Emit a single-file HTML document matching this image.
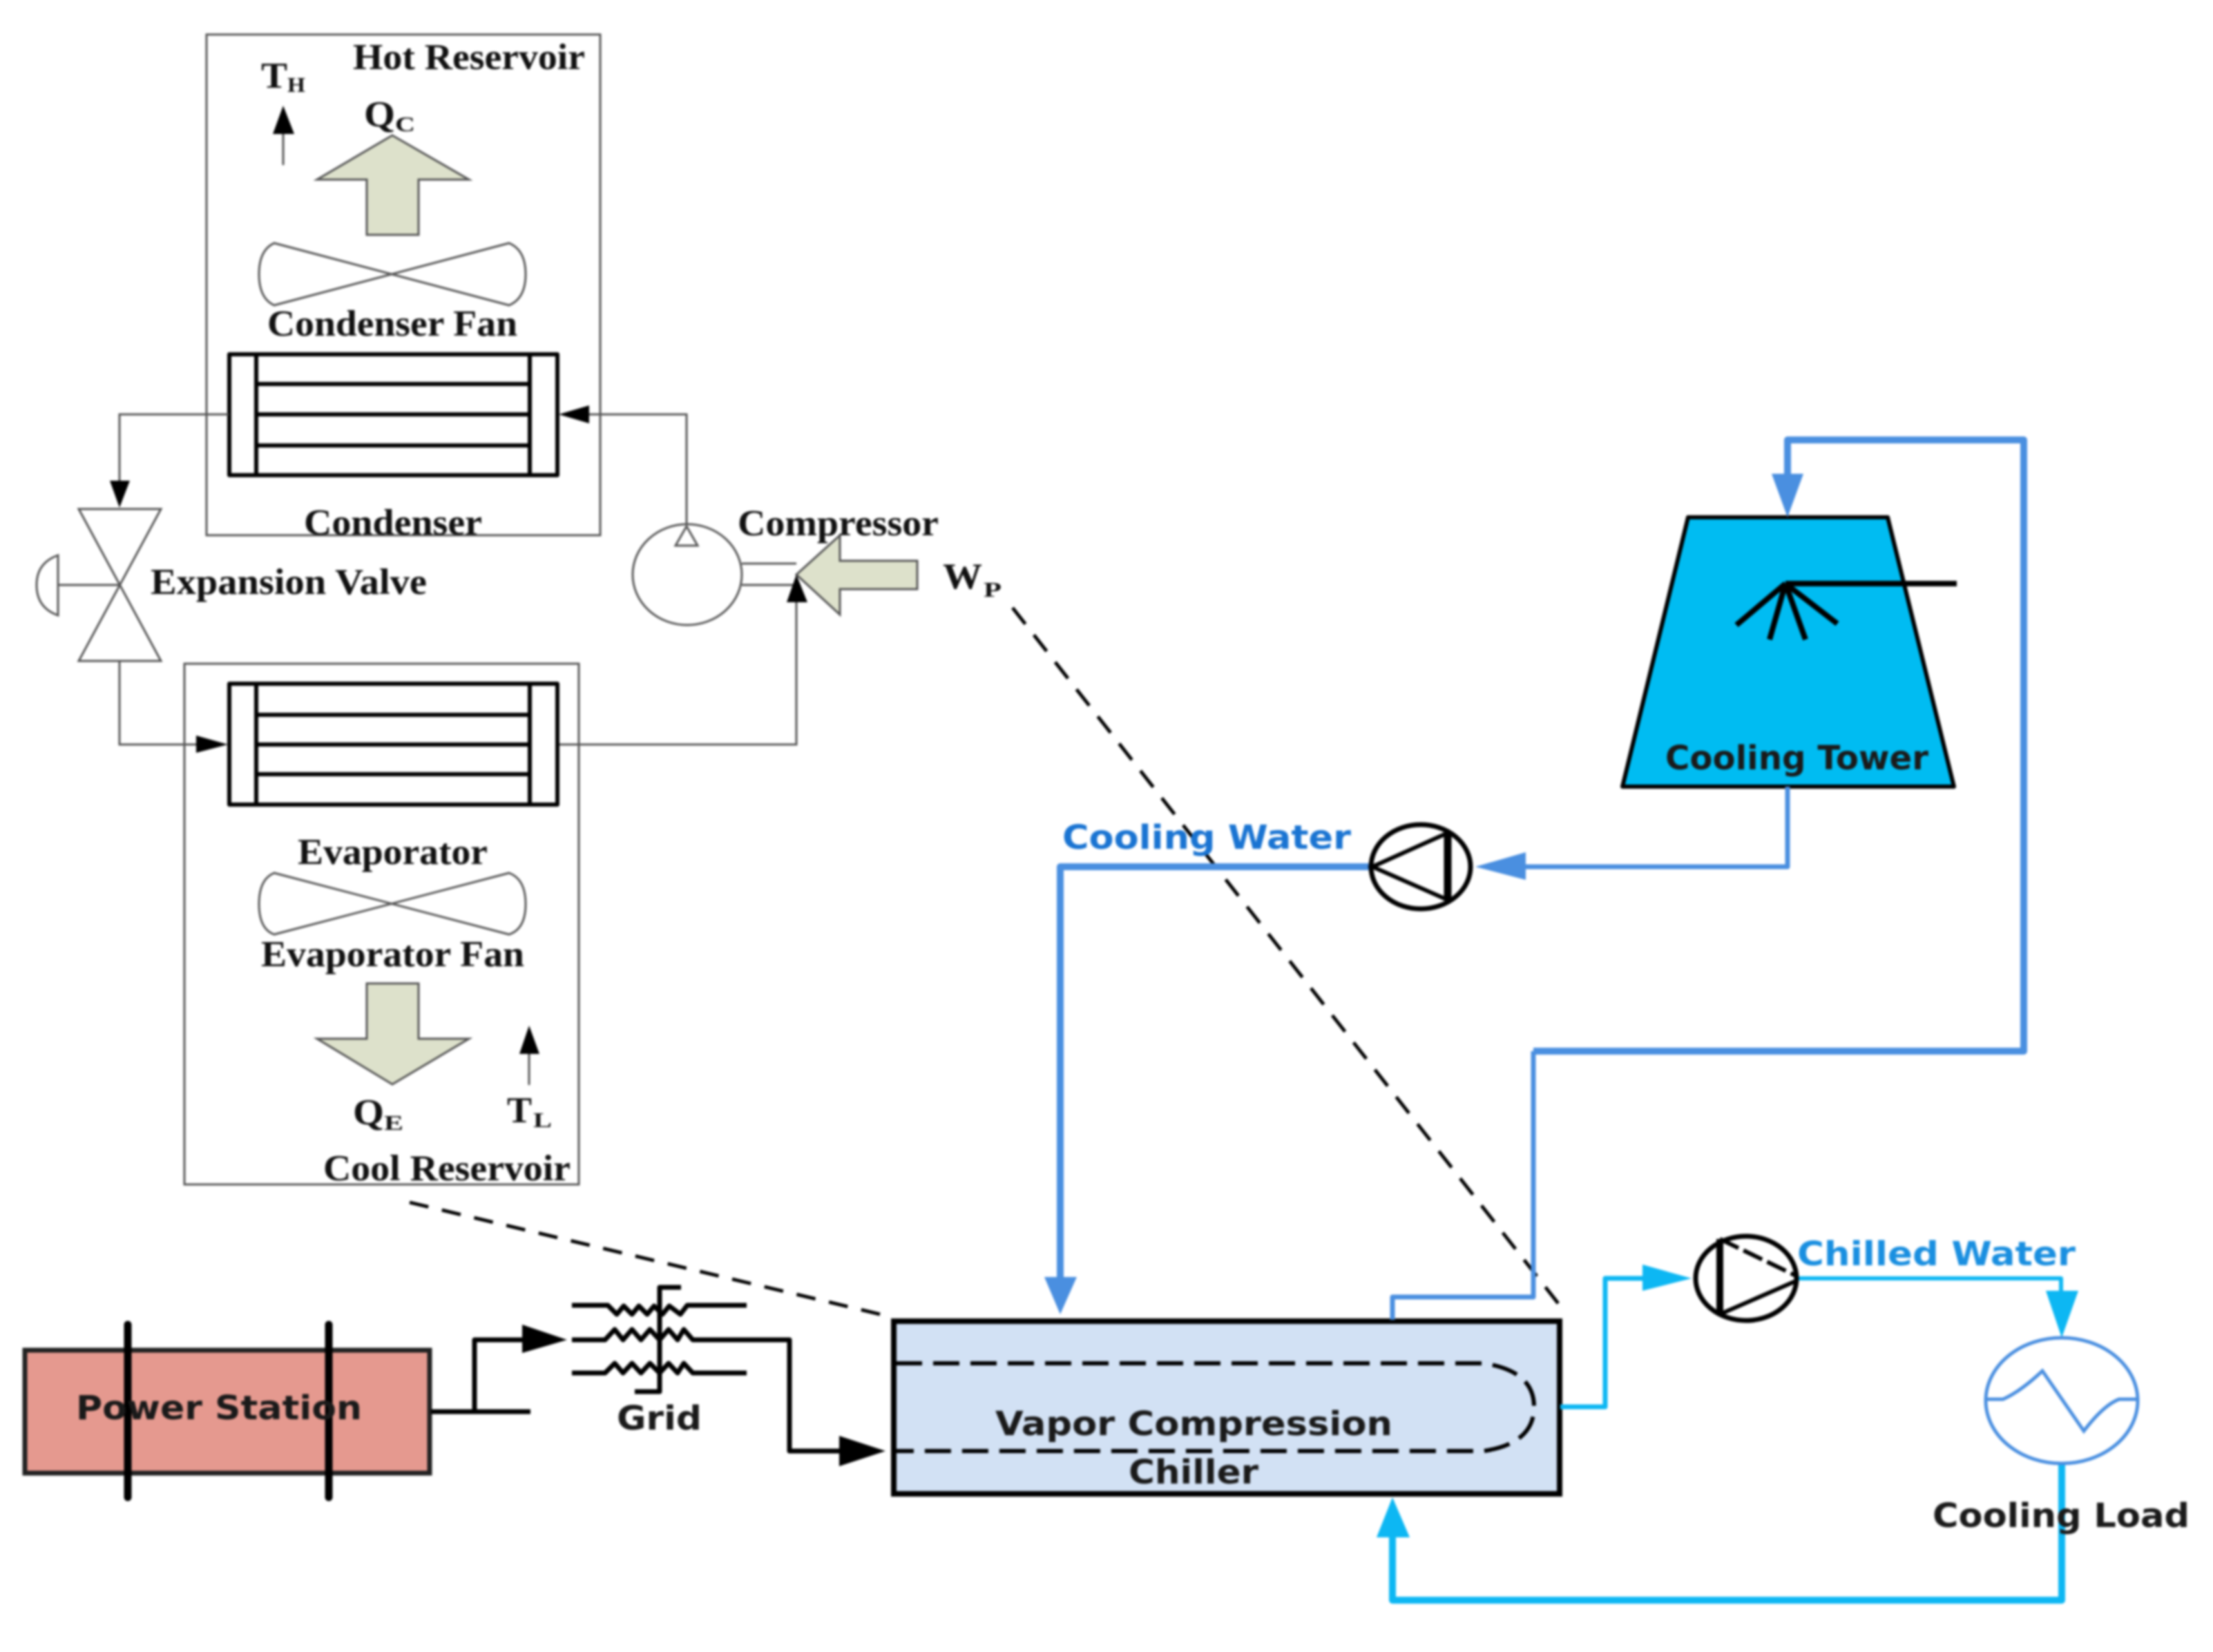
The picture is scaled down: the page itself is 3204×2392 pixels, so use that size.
<!DOCTYPE html>
<html><head><meta charset="utf-8">
<style>
html,body{margin:0;padding:0;background:#fff;width:3204px;height:2392px;overflow:hidden}
svg{display:block;filter:blur(1.6px)}
.s{font-family:"Liberation Serif",serif;font-weight:bold;font-size:53px;fill:#111}
.sub{font-size:31px}
.d{font-family:"DejaVu Sans","Liberation Sans",sans-serif;font-weight:bold;font-size:48px;fill:#1a1a1a}
.g{fill:none;stroke:#555;stroke-width:3}
.k{fill:none;stroke:#000;stroke-width:6;stroke-linejoin:round}
.c{fill:#DDE1CB;stroke:#555;stroke-width:3}
.b{fill:none;stroke:#4A8FE0;stroke-linejoin:round}
.l{fill:none;stroke:#0DB7F3;stroke-linejoin:round}
</style></head><body>
<svg width="3204" height="2392" viewBox="0 0 3204 2392" xmlns="http://www.w3.org/2000/svg">
<rect width="3204" height="2392" fill="#fff"/>

<!-- reservoirs -->
<rect x="299" y="50" width="570" height="725" fill="none" stroke="#555" stroke-width="3"/>
<rect x="267" y="961" width="571" height="754" fill="none" stroke="#555" stroke-width="3"/>

<!-- TH arrow -->
<path d="M410 194V239" class="g"/><path d="M410 153L426 194H395Z" fill="#000"/>
<!-- Qc arrow -->
<path class="c" d="M568 196L679 260H606V340H531V260H459Z"/>
<!-- hot fan -->
<path class="g" d="M397 352L737 442Q761 432 761 397Q761 362 737 352L397 442Q375 432 375 397Q375 362 397 352Z"/>

<!-- condenser -->
<g class="k"><rect x="332" y="513" width="475" height="175"/><path d="M371 513V688M767 513V688M371 556H767M371 600H767M371 645H767"/></g>

<!-- refrigerant piping -->
<path class="g" d="M331 600H173V700"/><path d="M173 735L159 696H188Z" fill="#000"/>
<path class="g" d="M853 600H994V760"/><path d="M809 600L853 587V613Z" fill="#000"/>
<path class="g" d="M114 737H233L114 957H233Z"/>
<path class="g" d="M173 847H84"/>
<path class="g" d="M84 804Q53 815 53 847Q53 880 84 891Z"/>

<!-- compressor -->
<ellipse cx="995" cy="832" rx="79" ry="73" class="g"/>
<path class="g" d="M994 762L1010 790H978Z"/>
<path class="g" d="M1074 816H1153M1074 847H1153"/>
<path class="c" d="M1153 832L1216 775V812H1328V853H1216V890Z"/>
<path class="g" d="M1153 872V1078H808"/><path d="M1153 832L1169 872H1139Z" fill="#000"/>
<path class="g" d="M173 957V1078H290"/><path d="M330 1078L284 1065V1090Z" fill="#000"/>

<!-- evaporator -->
<g class="k"><rect x="332" y="990" width="475" height="175"/><path d="M371 990V1165M767 990V1165M371 1035H767M371 1078H767M371 1121H767"/></g>
<!-- evap fan -->
<path class="g" d="M397 1264L737 1353Q761 1345 761 1309Q761 1273 737 1264L397 1353Q375 1345 375 1309Q375 1273 397 1264Z"/>
<!-- Qe arrow -->
<path class="c" d="M531 1424H606V1504H679L568 1570L459 1504H531Z"/>
<path class="g" d="M766 1526V1571"/><path d="M766 1485L781 1526H752Z" fill="#000"/>

<!-- texts: refrigeration -->
<text class="s" x="511" y="100" textLength="336" lengthAdjust="spacingAndGlyphs">Hot Reservoir</text>
<text class="s" x="378" y="127" textLength="38" lengthAdjust="spacingAndGlyphs">T</text>
<text class="s sub" x="416" y="133" textLength="26" lengthAdjust="spacingAndGlyphs">H</text>
<text class="s" x="527" y="183" textLength="45" lengthAdjust="spacingAndGlyphs">Q</text>
<text class="s sub" x="572" y="190" textLength="29" lengthAdjust="spacingAndGlyphs">C</text>
<text class="s" x="387" y="486" textLength="362" lengthAdjust="spacingAndGlyphs">Condenser Fan</text>
<text class="s" x="440" y="774" textLength="258" lengthAdjust="spacingAndGlyphs">Condenser</text>
<text class="s" x="1068" y="775" textLength="291" lengthAdjust="spacingAndGlyphs">Compressor</text>
<text class="s" x="218" y="860" textLength="400" lengthAdjust="spacingAndGlyphs">Expansion Valve</text>
<text class="s" x="1365" y="852" textLength="57" lengthAdjust="spacingAndGlyphs">W</text>
<text class="s sub" x="1424" y="864" textLength="26" lengthAdjust="spacingAndGlyphs">P</text>
<text class="s" x="431" y="1251" textLength="275" lengthAdjust="spacingAndGlyphs">Evaporator</text>
<text class="s" x="378" y="1399" textLength="381" lengthAdjust="spacingAndGlyphs">Evaporator Fan</text>
<text class="s" x="511" y="1628" textLength="45" lengthAdjust="spacingAndGlyphs">Q</text>
<text class="s sub" x="556" y="1636" textLength="28" lengthAdjust="spacingAndGlyphs">E</text>
<text class="s" x="734" y="1625" textLength="36" lengthAdjust="spacingAndGlyphs">T</text>
<text class="s sub" x="772" y="1632" textLength="27" lengthAdjust="spacingAndGlyphs">L</text>
<text class="s" x="468" y="1709" textLength="358" lengthAdjust="spacingAndGlyphs">Cool Reservoir</text>

<!-- dashed zoom lines -->
<path d="M593 1741L1287 1906" fill="none" stroke="#000" stroke-width="5" stroke-dasharray="28 20"/>
<path d="M1466 880L2266 1900" fill="none" stroke="#000" stroke-width="5" stroke-dasharray="30 20"/>

<!-- power station -->
<rect x="36" y="1955" width="586" height="178" fill="#E5998F" stroke="#222" stroke-width="7"/>
<path d="M185 1918V2168M476 1918V2168" stroke="#000" stroke-width="11" fill="none" stroke-linecap="round"/>
<text class="d" x="110" y="2055" textLength="414" lengthAdjust="spacingAndGlyphs">Power Station</text>
<path d="M624 2044H768M687 2044V1940H760" fill="none" stroke="#000" stroke-width="7" stroke-linejoin="round"/>
<path d="M821 1940L756 1918V1959Z" fill="#000"/>

<!-- grid -->
<g fill="none" stroke="#000" stroke-width="7" stroke-linejoin="round">
<path d="M828 1890H880L893 1903L903 1891L915 1903L925 1891L937 1903L947 1891L959 1903L969 1891L985 1903L995 1890H1081"/>
<path d="M828 1940H876L890 1925L902 1940L915 1925L928 1940L941 1925L955 1940L968 1925L981 1940L990 1925L1003 1940H1143V2101H1220"/>
<path d="M828 1988H876L890 1974L902 1988L915 1974L928 1988L941 1974L955 1988L968 1974L981 1988L990 1974L1003 1988H1081"/>
<path d="M986 1864H955V2015H919"/>
</g>
<path d="M1282 2101L1215 2079V2123Z" fill="#000"/>
<text class="d" x="893" y="2070" textLength="123" lengthAdjust="spacingAndGlyphs">Grid</text>

<!-- chiller -->
<rect x="1294" y="1913" width="964" height="250" fill="#D2E1F4" stroke="#000" stroke-width="8"/>
<path d="M1297 1974H2148Q2221 1985 2221 2037Q2221 2090 2148 2101H1297" fill="none" stroke="#000" stroke-width="6" stroke-dasharray="38 16"/>
<text class="d" x="1441" y="2078" textLength="575" lengthAdjust="spacingAndGlyphs">Vapor Compression</text>
<text class="d" x="1634" y="2148" textLength="188" lengthAdjust="spacingAndGlyphs">Chiller</text>

<!-- cooling tower -->
<path d="M2444 749H2733L2829 1139H2349Z" fill="#00BCF2" stroke="#000" stroke-width="6" stroke-linejoin="round"/>
<path d="M2833 845H2585M2585 845L2514 905M2585 845L2562 926M2585 845L2614 926M2585 845L2660 903" fill="none" stroke="#000" stroke-width="8"/>
<text class="d" x="2411" y="1114" textLength="381" lengthAdjust="spacingAndGlyphs">Cooling Tower</text>

<!-- cooling water loop -->
<path class="b" stroke-width="7" d="M2016 1911V1878H2220V1522" />
<path class="b" stroke-width="10" d="M2220 1522H2930V637H2588V700"/>
<path d="M2588 749L2565 686H2611Z" fill="#4A8FE0"/>
<path class="b" stroke-width="7" d="M2588 1139V1255H2190"/>
<path d="M2136 1255L2209 1234V1274Z" fill="#4A8FE0"/>
<path class="b" stroke-width="10" d="M1987 1255H1535V1860"/>
<path d="M1535 1903L1512 1849H1559Z" fill="#4A8FE0"/>
<text class="d" x="1538" y="1229" textLength="418" lengthAdjust="spacingAndGlyphs" style="fill:#1A74D2">Cooling Water</text>

<!-- cooling pump -->
<ellipse cx="2057" cy="1255" rx="72" ry="61" fill="none" stroke="#000" stroke-width="7"/>
<path d="M2096 1206V1303" stroke="#000" stroke-width="11"/>
<path d="M2096 1206L1987 1255L2096 1303" fill="none" stroke="#000" stroke-width="6"/>

<!-- chilled water loop -->
<path class="l" stroke-width="7" d="M2259 2037H2324V1851H2400"/>
<path d="M2449 1851L2378 1831V1869Z" fill="#0DB7F3"/>
<path class="l" stroke-width="6" d="M2602 1851H2984V1880"/>
<path d="M2985 1937L2962 1869H3009Z" fill="#0DB7F3"/>
<path class="l" stroke-width="10" d="M2985 2120V2317H2016V2200"/>
<path d="M2016 2168L1993 2226H2041Z" fill="#0DB7F3"/>
<text class="d" x="2602" y="1832" textLength="403" lengthAdjust="spacingAndGlyphs" style="fill:#1A8FE0">Chilled Water</text>

<!-- chilled pump -->
<ellipse cx="2528" cy="1851" rx="73" ry="61" fill="none" stroke="#000" stroke-width="7"/>
<path d="M2490 1794V1903" stroke="#000" stroke-width="10"/>
<path d="M2490 1794L2602 1848" fill="none" stroke="#000" stroke-width="6" stroke-dasharray="30 8"/>
<path d="M2602 1854L2490 1903" fill="none" stroke="#000" stroke-width="6"/>

<!-- load -->
<ellipse cx="2985" cy="2028" rx="110" ry="91" fill="none" stroke="#4A8FE0" stroke-width="5"/>
<path d="M2877 2026H2900Q2925 2015 2957 1985L3017 2072Q3045 2035 3068 2026H3095" fill="none" stroke="#4A8FE0" stroke-width="5"/>
<text class="d" x="2798" y="2211" textLength="372" lengthAdjust="spacingAndGlyphs">Cooling Load</text>
</svg>
</body></html>
